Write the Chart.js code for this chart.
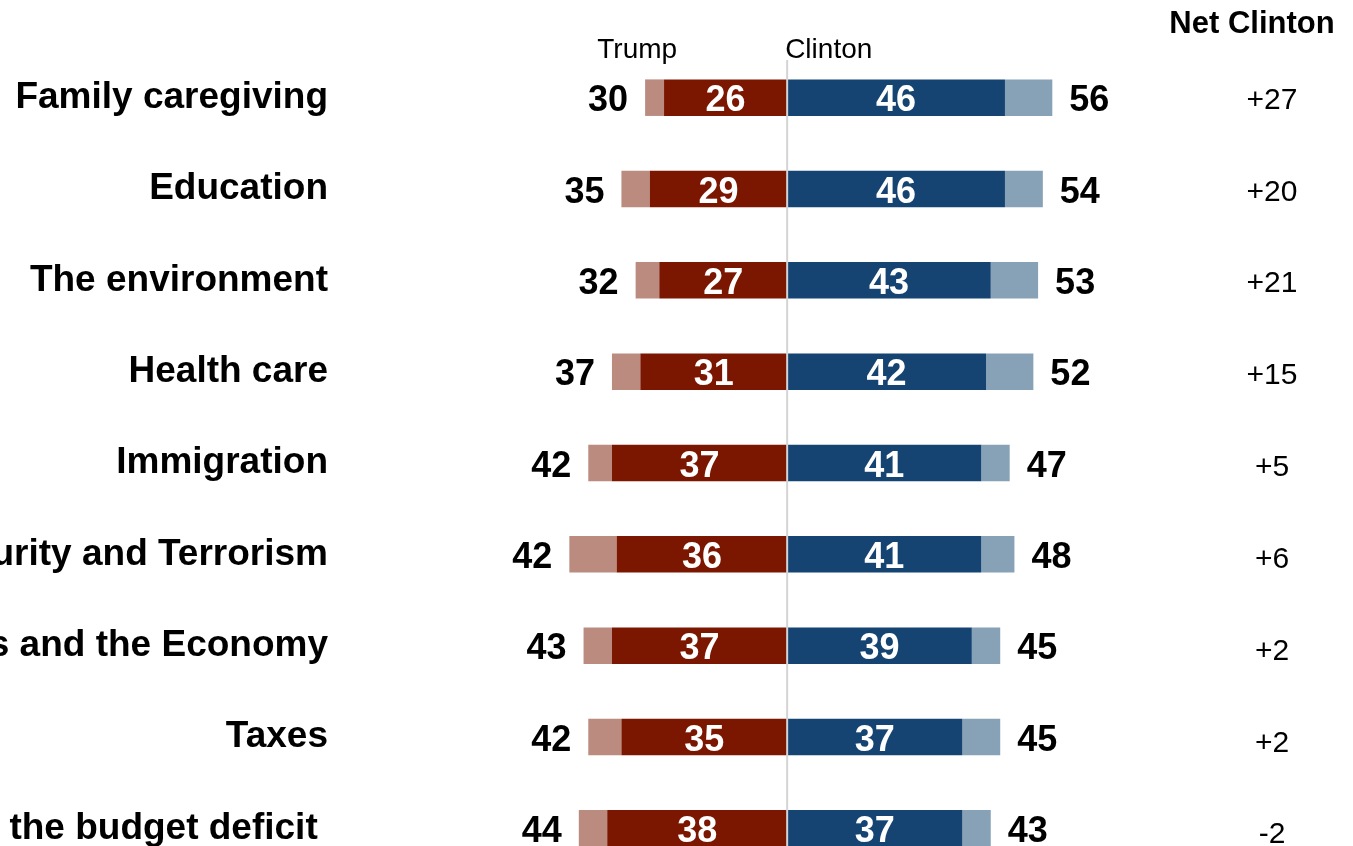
<!DOCTYPE html>
<html lang="en">
<head>
  <meta charset="UTF-8" />
  <title>Trump vs Clinton - Issues</title>
  <style>
    html, body {
      margin: 0;
      padding: 0;
      background: #ffffff;
      overflow: hidden;
    }

    #wrap {
      position: absolute;
      left: 0;
      top: 0;
      width: 1353px;
      height: 880px;
    }
  </style>
  <script src="https://cdn.jsdelivr.net/npm/chart.js"></script>
</head>
<body>
  <div id="wrap">
    <canvas id="issuesChart" width="1353" height="880"></canvas>
  </div>

  <script>
    const issues = [
      "Family caregiving",
      "Education",
      "The environment",
      "Health care",
      "Immigration",
      "National Security and Terrorism",
      "Jobs and the Economy",
      "Taxes",
      "Reducing the budget deficit "
    ];

    // printed numbers
    const trumpTotal = [30, 35, 32, 37, 42, 42, 43, 42, 44];
    const trumpStrong = [26, 29, 27, 31, 37, 36, 37, 35, 38];
    const clintonStrong = [46, 46, 43, 42, 41, 41, 39, 37, 37];
    const clintonTotal = [56, 54, 53, 52, 47, 48, 45, 45, 43];
    const netClinton = ["+27", "+20", "+21", "+15", "+5", "+6", "+2", "+2", "-2"];

    // bar lengths as drawn in the source (security row is drawn longer than its label)
    const trumpBar = [30, 35, 32, 37, 42, 46, 43, 42, 44];
    const clintonBar = [56, 54, 53, 52, 47, 48, 45, 45, 43];

    const FONT = "'Liberation Sans', Arial, Helvetica, sans-serif";

    const darkRed = "#7b1600";
    const lightRed = "#bb8b80";
    const darkBlue = "#154472";
    const lightBlue = "#87a2b7";

    const textPlugin = {
      id: "issueText",
      afterDatasetsDraw(chart) {
        const ctx = chart.ctx;
        const x = chart.scales.x;
        const y = chart.scales.y;
        const zero = x.getPixelForValue(0);

        ctx.save();

        // centre line
        ctx.strokeStyle = "#d4d4d4";
        ctx.lineWidth = 2;
        ctx.beginPath();
        ctx.moveTo(zero, 60);
        ctx.lineTo(zero, chart.height);
        ctx.stroke();

        // headers
        ctx.fillStyle = "#000";
        ctx.textBaseline = "alphabetic";
        ctx.font = "28px " + FONT;
        ctx.textAlign = "right";
        ctx.fillText("Trump", zero - 110, 58);
        ctx.textAlign = "left";
        ctx.fillText("Clinton", zero - 2, 58);

        ctx.font = "bold 31px " + FONT;
        ctx.textAlign = "center";
        ctx.fillText("Net Clinton", 1252, 33);

        issues.forEach((name, i) => {
          const cy = y.getPixelForValue(i);

          ctx.font = "bold 36px " + FONT;
          ctx.fillStyle = "#000";
          ctx.textAlign = "right";
          ctx.fillText(String(trumpTotal[i]), x.getPixelForValue(-trumpBar[i]) - 17, cy + 13.5);
          ctx.textAlign = "left";
          ctx.fillText(String(clintonTotal[i]), x.getPixelForValue(clintonBar[i]) + 17, cy + 13.5);

          ctx.fillStyle = "#fff";
          ctx.textAlign = "center";
          ctx.fillText(String(trumpStrong[i]), x.getPixelForValue(-trumpStrong[i] / 2), cy + 13.5);
          ctx.fillText(String(clintonStrong[i]), x.getPixelForValue(clintonStrong[i] / 2), cy + 13.5);

          ctx.font = "30px " + FONT;
          ctx.fillStyle = "#000";
          ctx.fillText(netClinton[i], 1272, cy + 11 + i * 0.5);
        });

        ctx.restore();
      }
    };

    const ctx = document.getElementById("issuesChart").getContext("2d");

    new Chart(ctx, {
      type: "bar",
      data: {
        labels: issues,
        datasets: [
          {
            label: "Trump strong",
            data: trumpStrong.map(v => -v),
            backgroundColor: darkRed
          },
          {
            label: "Trump lean",
            data: trumpBar.map((v, i) => -(v - trumpStrong[i])),
            backgroundColor: lightRed
          },
          {
            label: "Clinton strong",
            data: clintonStrong,
            backgroundColor: darkBlue
          },
          {
            label: "Clinton lean",
            data: clintonBar.map((v, i) => v - clintonStrong[i]),
            backgroundColor: lightBlue
          }
        ]
      },
      options: {
        indexAxis: "y",
        responsive: false,
        animation: false,
        layout: {
          padding: { top: 52, right: 45, bottom: 6, left: 0 }
        },
        datasets: {
          bar: {
            barPercentage: 0.4,
            categoryPercentage: 1,
            borderWidth: 0
          }
        },
        plugins: {
          legend: { display: false },
          tooltip: { enabled: false }
        },
        scales: {
          x: {
            stacked: true,
            display: false,
            min: -90,
            max: 110
          },
          y: {
            stacked: true,
            position: "left",
            grid: { display: false, drawTicks: false },
            border: { display: false },
            ticks: {
              color: "#000",
              padding: 33,
              font: { family: FONT, size: 37, weight: "bold" }
            },
            afterFit: (scale) => {
              scale.width = 361;
              scale.paddingTop = 0;
              scale.paddingBottom = 0;
            }
          }
        }
      },
      plugins: [textPlugin]
    });
  </script>
</body>
</html>
